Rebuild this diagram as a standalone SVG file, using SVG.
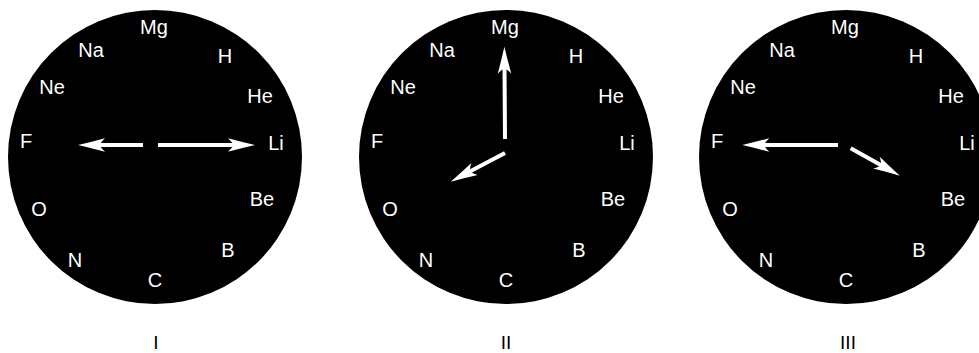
<svg xmlns="http://www.w3.org/2000/svg" width="979" height="353" viewBox="0 0 979 353">
  <style>
    .face { fill: #000000; }
    .lbl { fill: #ffffff; font-family: "Liberation Sans", Arial, sans-serif; font-size: 20px; text-anchor: middle; }
    .num { fill: #000000; font-family: "Liberation Sans", Arial, sans-serif; font-size: 19px; text-anchor: middle; }
    .hand { stroke: #ffffff; stroke-width: 4; fill: none; stroke-linecap: butt; marker-end: url(#head); }
  </style>
  <defs>
    <marker id="head" viewBox="0 0 28 16" markerUnits="userSpaceOnUse" markerWidth="28" markerHeight="16" refX="7" refY="8" orient="auto">
      <path d="M27,8 Q14,5 0,1.2 Q5,6 5,8 Q5,10 0,14.8 Q14,11 27,8 Z" fill="#ffffff"/>
    </marker>
  </defs>
  <rect width="979" height="353" fill="#ffffff"/>

  <g id="clock-I" transform="translate(155,157)">
    <circle class="face" cx="0" cy="0" r="147"/>
    <text class="lbl" x="-1" y="-123">Mg</text>
    <text class="lbl" x="-64" y="-100">Na</text>
    <text class="lbl" x="70" y="-94">H</text>
    <text class="lbl" x="-103" y="-63">Ne</text>
    <text class="lbl" x="105" y="-54">He</text>
    <text class="lbl" x="-129" y="-9">F</text>
    <text class="lbl" x="121" y="-7">Li</text>
    <text class="lbl" x="107" y="49">Be</text>
    <text class="lbl" x="-116" y="59">O</text>
    <text class="lbl" x="73" y="100">B</text>
    <text class="lbl" x="-80" y="110">N</text>
    <text class="lbl" x="0" y="130">C</text>
  </g>

  <g id="clock-II" transform="translate(506,157)">
    <circle class="face" cx="0" cy="0" r="147"/>
    <text class="lbl" x="-1" y="-123">Mg</text>
    <text class="lbl" x="-64" y="-100">Na</text>
    <text class="lbl" x="70" y="-94">H</text>
    <text class="lbl" x="-103" y="-63">Ne</text>
    <text class="lbl" x="105" y="-54">He</text>
    <text class="lbl" x="-129" y="-9">F</text>
    <text class="lbl" x="121" y="-7">Li</text>
    <text class="lbl" x="107" y="49">Be</text>
    <text class="lbl" x="-116" y="59">O</text>
    <text class="lbl" x="73" y="100">B</text>
    <text class="lbl" x="-80" y="110">N</text>
    <text class="lbl" x="0" y="130">C</text>
  </g>

  <g id="clock-III" transform="translate(846,157)">
    <circle class="face" cx="0" cy="0" r="147"/>
    <text class="lbl" x="-1" y="-123">Mg</text>
    <text class="lbl" x="-64" y="-100">Na</text>
    <text class="lbl" x="70" y="-94">H</text>
    <text class="lbl" x="-103" y="-63">Ne</text>
    <text class="lbl" x="105" y="-54">He</text>
    <text class="lbl" x="-129" y="-9">F</text>
    <text class="lbl" x="121" y="-7">Li</text>
    <text class="lbl" x="107" y="49">Be</text>
    <text class="lbl" x="-116" y="59">O</text>
    <text class="lbl" x="73" y="100">B</text>
    <text class="lbl" x="-80" y="110">N</text>
    <text class="lbl" x="0" y="130">C</text>
  </g>

  <g id="connectors">
    <line class="hand" x1="143" y1="145" x2="98" y2="145"/>
    <line class="hand" x1="158" y1="145" x2="235" y2="145"/>
    <line class="hand" x1="505" y1="139" x2="504.5" y2="66.7"/>
    <line class="hand" x1="505" y1="153" x2="468.4" y2="172.3"/>
    <line class="hand" x1="838" y1="145" x2="762.3" y2="145"/>
    <line class="hand" x1="850.7" y1="148.3" x2="882.5" y2="166"/>
  </g>

  <g id="captions">
    <text class="num" x="156" y="349">I</text>
    <text class="num" x="506" y="349">II</text>
    <text class="num" x="848" y="349">III</text>
  </g>
</svg>
